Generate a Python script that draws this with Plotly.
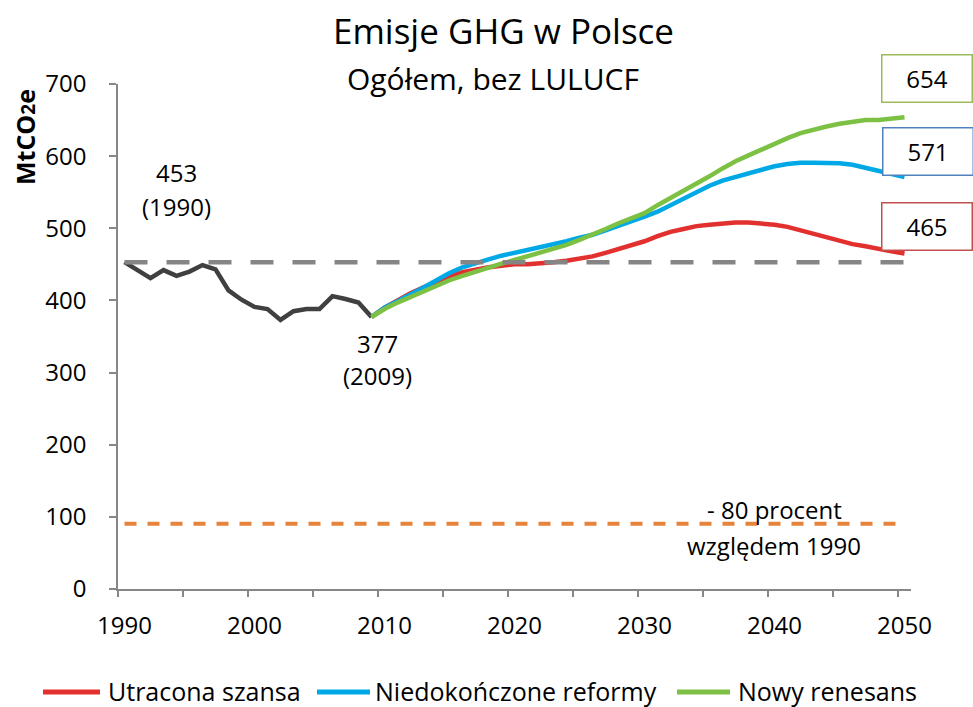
import plotly.graph_objects as go

# ---------------- data ----------------
hist_years = list(range(1990, 2010))
hist_values = [453, 442, 431, 442, 434, 440, 449, 443, 414, 401,
               391, 388, 373, 385, 388, 388, 406, 402, 397, 377]

scen_years = list(range(2009, 2051))
utracona_szansa = [377, 390, 400, 410, 418, 426, 433, 439, 443, 446,
                   448, 450, 450, 451, 453, 455, 458, 461, 466, 471,
                   476, 482, 489, 495, 499, 503, 505, 507, 508, 508,
                   507, 505, 502, 497, 492, 487, 482, 478, 475, 471,
                   468, 465]
niedokonczone_reformy = [377, 390, 399, 408, 418, 428, 438, 446, 452, 457,
                         462, 466, 469, 473, 477, 482, 487, 491, 497, 503,
                         510, 516, 523, 532, 541, 550, 559, 566, 571, 576,
                         581, 586, 589, 591, 591, 591, 590, 588, 584, 579,
                         575, 571]
nowy_renesans = [377, 388, 397, 405, 412, 420, 428, 434, 440, 446,
                 451, 456, 461, 466, 471, 477, 484, 491, 499, 507,
                 514, 521, 532, 542, 552, 561, 572, 583, 593, 601,
                 609, 618, 625, 632, 637, 641, 645, 648, 650, 650,
                 652, 654]

ref_years = [1990, 2050]
level_1990 = [453, 453]
target_minus80 = [90.6, 90.6]

series_names = ["Utracona szansa", "Niedokończone reformy", "Nowy renesans"]
end_labels = ["465", "571", "654"]

x_tick_values = [1990, 2000, 2010, 2020, 2030, 2040, 2050]
x_tick_labels = ["1990", "2000", "2010", "2020", "2030", "2040", "2050"]
y_tick_values = [0, 100, 200, 300, 400, 500, 600, 700]

# ---------------- layout helpers ----------------
W, H = 973, 707
L, R, T, B = 118, 911, 84, 589   # plot area in page pixels


def px_x(px):
    return (px - L) / (R - L)


def px_y(py):
    return (B - py) / (B - T)


FONT = "Open Sans"
RED = "#E2302E"
BLUE = "#00A9E6"
GREEN = "#7CC143"
HIST = "#404040"
GRAY = "#858585"
ORANGE = "#E5843A"
AXIS = "#878787"
series_colors = [RED, BLUE, GREEN]

fig = go.Figure()

fig.add_trace(go.Scatter(x=hist_years, y=hist_values, mode="lines",
                         line=dict(color=HIST, width=4.5), showlegend=False,
                         hoverinfo="skip"))
for name, vals, col in zip(series_names,
                           [utracona_szansa, niedokonczone_reformy, nowy_renesans],
                           series_colors):
    fig.add_trace(go.Scatter(x=scen_years, y=vals, mode="lines", name=name,
                             line=dict(color=col, width=4.5), showlegend=False))

fig.add_trace(go.Scatter(x=ref_years, y=level_1990, mode="lines",
                         line=dict(color=GRAY, width=4.5, dash="23px,19px"),
                         showlegend=False, hoverinfo="skip"))
fig.add_trace(go.Scatter(x=ref_years, y=target_minus80, mode="lines",
                         line=dict(color=ORANGE, width=4, dash="12px,11px"),
                         showlegend=False, hoverinfo="skip"))

annotations = []
shapes = []


def txt(text, px, py, size=24, color="black", bold=False, anchor="center", **kw):
    if bold:
        text = "<b>" + text + "</b>"
    annotations.append(dict(text=text, x=px_x(px), y=px_y(py), xref="paper",
                            yref="paper", showarrow=False,
                            xanchor=anchor, yanchor="middle",
                            font=dict(family=FONT, size=size, color=color), **kw))


txt("Emisje GHG w Polsce", 503, 31, size=35)
txt("Ogółem, bez LULUCF", 493, 78, size=30)
txt("MtCO<span style='font-size:19px'>2</span>e", 25, 137, size=25, bold=True,
    textangle=-90)
txt("453", 176, 172, size=24)
txt("(1990)", 176, 206, size=24)
txt("377", 377, 343, size=24)
txt("(2009)", 377, 375, size=24)
txt("- 80 procent", 774, 509, size=24)
txt("względem 1990", 774, 545, size=24)

box_specs = [(end_labels[2], 926.5, 78, "#9BBB59"),
             (end_labels[1], 927.5, 151, "#4F81BD"),
             (end_labels[0], 926.5, 226.3, "#C0504D")]
for label, bx, by, bc in box_specs:
    txt(label, bx, by, size=24, bordercolor=bc, borderwidth=1.5,
        borderpad=2, width=85, height=42, bgcolor="white")

# manual legend (line sample + label)
legend_items = [(43, 100, 106), (317, 370, 373), (677, 730, 736)]
for (x0, x1, xt), name, col in zip(legend_items, series_names, series_colors):
    shapes.append(dict(type="line", xref="paper", yref="paper",
                       x0=px_x(x0), x1=px_x(x1), y0=px_y(692), y1=px_y(692),
                       line=dict(color=col, width=5)))
    txt(name, xt, 691, size=25, anchor="left")

fig.update_layout(
    width=W, height=H,
    margin=dict(l=L, r=W - R, t=T, b=H - B, pad=0, autoexpand=False),
    paper_bgcolor="white", plot_bgcolor="white",
    font=dict(family=FONT, size=24, color="black"),
    showlegend=False,
    annotations=annotations,
    shapes=shapes,
)

fig.update_xaxes(range=[1989.5, 2050.5], tickmode="array",
                 tickvals=x_tick_values, ticktext=x_tick_labels,
                 ticks="", showgrid=False, zeroline=False, automargin=False,
                 showline=True, linecolor=AXIS, linewidth=1.5,
                 ticklabelstandoff=14,
                 tickfont=dict(family=FONT, size=24, color="black"),
                 minor=dict(tickmode="array",
                            tickvals=[1989.5 + 5 * k for k in range(13)],
                            ticks="outside", ticklen=6, tickcolor=AXIS,
                            tickwidth=1.5, showgrid=False))
fig.update_yaxes(range=[0, 700], tickmode="array", tickvals=y_tick_values,
                 ticks="outside", ticklen=7, tickcolor=AXIS, tickwidth=1.5,
                 showgrid=False, zeroline=False, showline=True, automargin=False,
                 linecolor=AXIS, linewidth=1.5, ticklabelstandoff=18,
                 tickfont=dict(family=FONT, size=24, color="black"))

fig.write_html(
    "out.html",
    config={"displayModeBar": False},
    post_script="document.body.style.margin='0px';"
                "document.body.style.overflow='hidden';",
)
